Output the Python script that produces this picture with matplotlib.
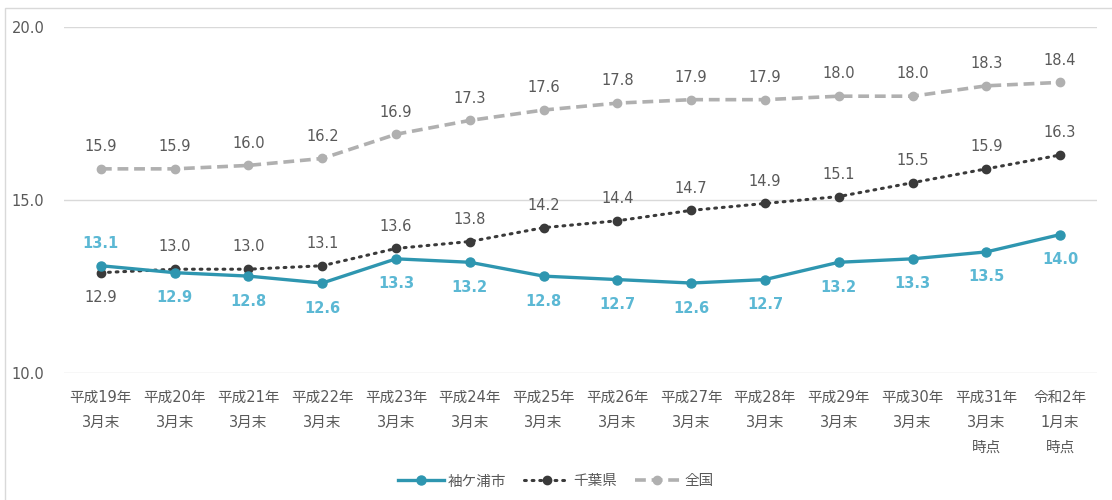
import matplotlib as mpl
mpl.use('Agg')
import matplotlib.pyplot as plt
from matplotlib.patches import Rectangle

# DejaVu for the digits, Noto CJK picks up the Japanese characters
plt.rcParams['font.family'] = ['DejaVu Sans', 'Noto Sans CJK JP']

categories = ['平成19年\n3月末', '平成20年\n3月末', '平成21年\n3月末', '平成22年\n3月末',
              '平成23年\n3月末', '平成24年\n3月末', '平成25年\n3月末', '平成26年\n3月末',
              '平成27年\n3月末', '平成28年\n3月末', '平成29年\n3月末', '平成30年\n3月末',
              '平成31年\n3月末\n時点', '令和2年\n1月末\n時点']
sodegaura = [13.1, 12.9, 12.8, 12.6, 13.3, 13.2, 12.8, 12.7, 12.6, 12.7, 13.2, 13.3, 13.5, 14.0]
chiba = [12.9, 13.0, 13.0, 13.1, 13.6, 13.8, 14.2, 14.4, 14.7, 14.9, 15.1, 15.5, 15.9, 16.3]
zenkoku = [15.9, 15.9, 16.0, 16.2, 16.9, 17.3, 17.6, 17.8, 17.9, 17.9, 18.0, 18.0, 18.3, 18.4]
series_names = ['袖ケ浦市', '千葉県', '全国']

W, H = 1112, 500
fig = plt.figure(figsize=(W / 100, H / 100), dpi=100)
ax = fig.add_axes([64 / W, 1 - 373 / H, (1097 - 64) / W, (373 - 27) / H])

# chart frame
fig.patches.append(Rectangle((5 / W, -0.05), 1.1, 1 - 8 / H + 0.05, transform=fig.transFigure,
                             fill=False, edgecolor='#d9d9d9', linewidth=1.0))

x = list(range(len(categories)))
c_sode = '#2e96b0'
c_sode_lbl = '#5bb8d4'
c_chiba = '#3a3a3a'
c_zen = '#b0b0b0'
txt = '#595959'

ax.plot(x, zenkoku, color=c_zen, lw=2.6, ls=(0, (3, 1.6)), marker='o', ms=6,
        markeredgecolor=c_zen, label=series_names[2], zorder=3)
ax.plot(x, chiba, color=c_chiba, lw=2.2, ls=(0, (0.6, 1.9)), dash_capstyle='round',
        marker='o', ms=6, label=series_names[1], zorder=4)
ax.plot(x, sodegaura, color=c_sode, lw=2.4, marker='o', ms=6.5, label=series_names[0], zorder=5)

fs = 10.5
for i in x:
    ax.annotate(f'{zenkoku[i]:.1f}', (i, zenkoku[i]), xytext=(0, 16), textcoords='offset points',
                ha='center', va='center', fontsize=fs, color=txt)
    dy = -18 if i == 0 else 16
    ax.annotate(f'{chiba[i]:.1f}', (i, chiba[i]), xytext=(0, dy), textcoords='offset points',
                ha='center', va='center', fontsize=fs, color=txt)
    dy = 16 if i == 0 else -18
    ax.annotate(f'{sodegaura[i]:.1f}', (i, sodegaura[i]), xytext=(0, dy), textcoords='offset points',
                ha='center', va='center', fontsize=fs, color=c_sode_lbl, fontweight='bold')

ax.set_xlim(-0.5, len(categories) - 0.5)
ax.set_ylim(10, 20)
ax.set_yticks([10, 15, 20])
ax.set_yticklabels(['10.0', '15.0', '20.0'])
ax.set_xticks(x)
ax.set_xticklabels(categories, linespacing=1.85, va='top')
ax.tick_params(axis='both', length=0, labelsize=fs, colors=txt)
ax.tick_params(axis='y', pad=14)
ax.tick_params(axis='x', pad=12)
ax.grid(axis='y', color='#d9d9d9', lw=1.0)
ax.set_axisbelow(True)
for s in ax.spines.values():
    s.set_visible(False)

handles, labels = ax.get_legend_handles_labels()
order = [2, 1, 0]
fig.legend([handles[k] for k in order], [labels[k] for k in order], loc='center',
           bbox_to_anchor=(0.5, 1 - 481 / H), ncol=3, frameon=False, fontsize=fs,
           handlelength=3.1, columnspacing=1.2, handletextpad=0.3, labelcolor=txt)

fig.savefig('out.png', dpi=100)
